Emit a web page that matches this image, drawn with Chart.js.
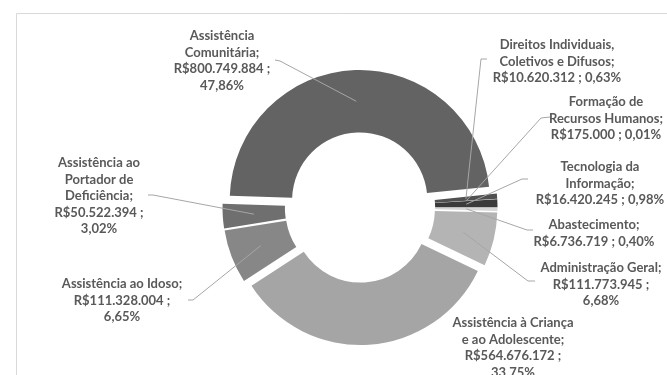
<!DOCTYPE html>
<html>
<head>
<meta charset="utf-8">
<script src="https://cdn.jsdelivr.net/npm/chart.js@4.4.0/dist/chart.umd.min.js"></script>
<style>
  html, body { margin: 0; padding: 0; background: #fff; }
  canvas { display: block; }
</style>
</head>
<body>
<canvas id="grafico" width="667" height="375"></canvas>
<script>
// fatias na ordem do Excel: começa às 3 horas e segue no sentido horário
const categorias = [
    'Abastecimento', 'Administração Geral', 'Assistência à Criança e ao Adolescente',
    'Assistência ao Idoso', 'Assistência ao Portador de Deficiência', 'Assistência Comunitária',
    'Direitos Individuais, Coletivos e Difusos', 'Formação de Recursos Humanos', 'Tecnologia da Informação'
];
const valores = [6736719, 111773945, 564676172, 111328004, 50522394, 800749884, 10620312, 175000, 16420245];
const cores = ['#d6d6d6', '#b4b4b4', '#a5a5a5', '#878787', '#6f6f6f', '#636363', '#505050', '#8c8c8c', '#3a3a3a'];

// onde fica cada rótulo: centro do texto, y da 1a linha, palavras por linha e saída da linha guia
const rotulos = [
    { x: 594, y: 225, linhas: [1, 2], guia: [[533, 230], [527, 230]] },
    { x: 601, y: 268, linhas: [2, 1, 1], guia: [[535, 281], [528, 281]] },
    { x: 513, y: 323, linhas: [3, 3, 1, 1], guia: null },
    { x: 122, y: 284, linhas: [3, 1, 1], guia: [[188, 300], [193, 300]] },
    { x: 99, y: 163, linhas: [2, 2, 1, 1, 1], guia: [[148, 195], [153, 195]] },
    { x: 222, y: 36, linhas: [1, 1, 1, 1], guia: [[275, 60], [280, 61]] },
    { x: 557, y: 45, linhas: [2, 3, 2], guia: [[487, 59], [481, 59]] },
    { x: 606, y: 102, linhas: [2, 2, 2], guia: [[550, 117], [541, 118]] },
    { x: 600, y: 167, linhas: [2, 1, 2], guia: [[528, 179], [522, 179]] }
];

const DESLOC = 7.5;
const ALTURA_LINHA = 16.5;
const FONTE = 'bold 13px Lato';

const total = valores.reduce((a, b) => a + b, 0);

function formatarReais(v) {
    return 'R$' + String(v).replace(/\B(?=(\d{3})+(?!\d))/g, '.');
}

function formatarPct(v) {
    return (v / total * 100).toFixed(2).replace('.', ',') + '%';
}

// monta as linhas do rótulo: "Nome; R$valor ; pct" quebrado como no Excel
function montarLinhas(i, porLinha) {
    const palavras = (categorias[i] + ';').split(' ')
        .concat([formatarReais(valores[i]) + ' ;', formatarPct(valores[i])]);
    const linhas = [];
    let k = 0;
    porLinha.forEach(n => {
        linhas.push(palavras.slice(k, k + n).join(' '));
        k += n;
    });
    return linhas;
}

// afasta cada fatia do centro (explosão)
const explodir = {
    id: 'explodir',
    afterDatasetsUpdate(chart) {
        chart.getDatasetMeta(0).data.forEach(arc => {
            const meio = (arc.startAngle + arc.endAngle) / 2;
            arc.x += Math.cos(meio) * DESLOC;
            arc.y += Math.sin(meio) * DESLOC;
        });
    }
};

const moldura = {
    id: 'moldura',
    beforeDraw(chart) {
        const ctx = chart.ctx;
        ctx.save();
        ctx.strokeStyle = '#d9d9d9';
        ctx.lineWidth = 1;
        ctx.beginPath();
        ctx.moveTo(16.5, 380);
        ctx.lineTo(16.5, 13.5);
        ctx.lineTo(670, 13.5);
        ctx.stroke();
        ctx.restore();
    }
};

const textos = {
    id: 'textos',
    afterDraw(chart) {
        const ctx = chart.ctx;
        const arcos = chart.getDatasetMeta(0).data;
        ctx.save();
        ctx.font = FONTE;

        // linhas guia até o meio do anel de cada fatia
        ctx.strokeStyle = '#a6a6a6';
        ctx.lineWidth = 1;
        rotulos.forEach((r, i) => {
            if (!r.guia) return;
            const arc = arcos[i];
            const meio = (arc.startAngle + arc.endAngle) / 2;
            const raio = (arc.innerRadius + arc.outerRadius) / 2;
            ctx.beginPath();
            ctx.moveTo(r.guia[0][0], r.guia[0][1]);
            ctx.lineTo(r.guia[1][0], r.guia[1][1]);
            ctx.lineTo(arc.x + Math.cos(meio) * raio, arc.y + Math.sin(meio) * raio);
            ctx.stroke();
        });

        ctx.fillStyle = '#595959';
        ctx.textAlign = 'center';
        ctx.textBaseline = 'middle';
        rotulos.forEach((r, i) => {
            montarLinhas(i, r.linhas).forEach((linha, k) => {
                ctx.fillText(linha, r.x, r.y + k * ALTURA_LINHA);
            });
        });
        ctx.restore();
    }
};

new Chart(document.getElementById('grafico'), {
    type: 'doughnut',
    data: {
        labels: categorias,
        datasets: [{
            data: valores,
            backgroundColor: cores,
            borderWidth: 0
        }]
    },
    options: {
        responsive: false,
        animation: false,
        events: [],
        rotation: 90,
        cutout: '52%',
        layout: { padding: { left: 230, right: 177, top: 77.5, bottom: 37.5 } },
        plugins: {
            legend: { display: false },
            tooltip: { enabled: false }
        }
    },
    plugins: [explodir, moldura, textos]
});
</script>
</body>
</html>
